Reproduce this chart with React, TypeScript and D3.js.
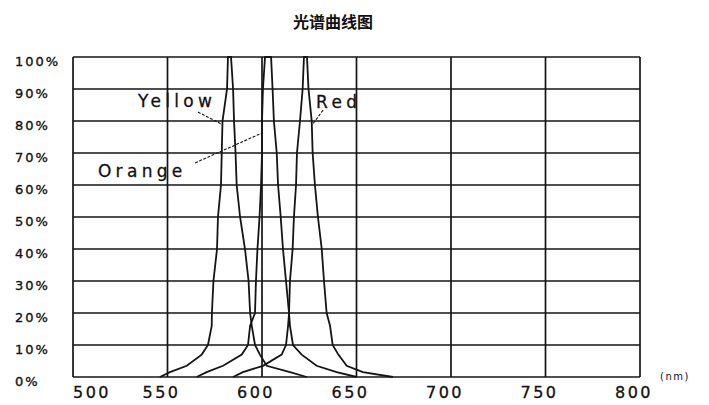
import React from "react";
import * as d3 from "d3";

const W = 709;
const H = 405;

const title = "光谱曲线图";
const xTicks = [500, 550, 600, 650, 700, 750, 800];
const yTicks = [0, 10, 20, 30, 40, 50, 60, 70, 80, 90, 100];
const xUnit = "(nm)";

// [wavelength nm, relative intensity %]
const yellow: [number, number][] = [
  [546, 0], [551.3, 1.5], [560.2, 3.5], [568.1, 7], [571.4, 10], [573.4, 16], [573.5, 20],
  [574.3, 30], [576.2, 40], [576.7, 50], [578.3, 60], [578.7, 70], [579.1, 80], [581.5, 90],
  [582, 100], [583.6, 100], [584.7, 90], [585.2, 80], [586, 70], [586.6, 60], [588.4, 50],
  [591, 40], [592.9, 30], [593.7, 20], [594.6, 16], [596.3, 10], [598.9, 7], [602.5, 3.5],
  [614.8, 1.5], [623.7, 0],
];
const orange: [number, number][] = [
  [565.4, 0], [570.7, 1.5], [579.4, 3.5], [589.3, 7], [592.6, 10], [593.7, 16], [596.3, 20],
  [596.8, 30], [597.6, 40], [598.7, 50], [599.5, 60], [600, 70], [600, 80], [600.5, 90],
  [601.6, 100], [604.8, 100], [605.6, 90], [606.3, 80], [607.8, 70], [608.5, 60], [609.9, 50],
  [611.1, 40], [612.7, 30], [614.3, 20], [614.8, 16], [616.4, 10], [621, 7], [628.9, 3.5],
  [639.5, 1.5], [650.1, 0],
];
const red: [number, number][] = [
  [584.7, 0], [589.9, 1.5], [600.5, 3.5], [610.4, 7], [612.7, 10], [613.8, 16], [614.3, 20],
  [614.8, 30], [616.2, 40], [616.9, 50], [618, 60], [618.5, 70], [620.1, 80], [621.5, 90],
  [622.2, 100], [623.8, 100], [624.6, 90], [626.3, 80], [626.8, 70], [628, 60], [629.6, 50],
  [631.6, 40], [632.8, 30], [634.2, 20], [636, 16], [637.4, 10], [640.4, 7], [644.8, 3.5],
  [653.4, 1.5], [669.3, 0],
];

const seriesNames = ["Yellow", "Orange", "Red"];
const seriesData = [yellow, orange, red];
// label text anchor [nm, %], leader start [nm, %], leader end [nm, %]
const labelAt: [number, number][] = [[534.4, 84.4], [513.2, 62.5], [628.6, 84]];
const leaderFrom: [number, number][] = [[566.1, 82.8], [564.6, 66.9], [632.3, 83.4]];
const leaderTo: [number, number][] = [[579.4, 78.75], [600, 76.25], [626.5, 78.75]];

export default function App() {
  const x = d3.scaleLinear().domain([500, 800]).range([73, 640]);
  const y = d3.scaleLinear().domain([0, 100]).range([377, 57]);
  const line = d3
    .line<[number, number]>()
    .x((d) => x(d[0]))
    .y((d) => y(d[1]))
    .curve(d3.curveLinear);

  const font = "'DejaVu Sans', sans-serif";
  const stroke = "#141414";

  return (
    <svg
      width={W}
      height={H}
      style={{ position: "absolute", left: 0, top: 0, background: "#fff" }}
    >
      <rect x={0} y={0} width={W} height={H} fill="#fff" />
      <text
        x={333}
        y={28}
        textAnchor="middle"
        fontFamily="'Noto Sans CJK SC', sans-serif"
        fontWeight="bold"
        fontSize={16}
        fill="#111"
      >
        {title}
      </text>

      {/* grid */}
      {yTicks.map((t) => (
        <line key={"h" + t} x1={x(500)} x2={x(800)} y1={y(t)} y2={y(t)} stroke={stroke} strokeWidth={1.7} />
      ))}
      {xTicks.map((t) => (
        <line key={"v" + t} x1={x(t)} x2={x(t)} y1={y(0)} y2={y(100)} stroke={stroke} strokeWidth={1.7} />
      ))}

      {/* y tick labels */}
      {yTicks.map((t) => (
        <text
          key={"yl" + t}
          x={15}
          y={y(t) + 4}
          dy="0.35em"
          fontFamily={font}
          fontSize={13}
          letterSpacing={2}
          fill="#111"
          stroke="#111"
          strokeWidth={0.35}
        >
          {t + "%"}
        </text>
      ))}

      {/* x tick labels */}
      {xTicks.map((t, i) => (
        <text
          key={"xl" + t}
          x={i === 0 ? x(t) + 19 : x(t) - 6}
          y={398}
          textAnchor="middle"
          fontFamily={font}
          fontSize={16}
          letterSpacing={2.5}
          fill="#111"
          stroke="#111"
          strokeWidth={0.3}
        >
          {t}
        </text>
      ))}
      <text x={660} y={380} fontFamily={font} fontSize={10} letterSpacing={1.5} fill="#111">
        {xUnit}
      </text>

      {/* curves */}
      {seriesData.map((s, i) => (
        <path key={"s" + i} d={line(s) || ""} fill="none" stroke={stroke} strokeWidth={1.8} strokeLinejoin="miter" />
      ))}

      {/* annotations */}
      {seriesNames.map((n, i) => (
        <g key={"a" + n}>
          <line
            x1={x(leaderFrom[i][0])}
            y1={y(leaderFrom[i][1])}
            x2={x(leaderTo[i][0])}
            y2={y(leaderTo[i][1])}
            stroke={stroke}
            strokeWidth={1.1}
            strokeDasharray="3,1.5"
          />
          <text
            x={x(labelAt[i][0])}
            y={y(labelAt[i][1])}
            fontFamily={font}
            fontSize={17}
            letterSpacing={4.3}
            fill="#111"
            stroke="#111"
            strokeWidth={0.3}
          >
            {n}
          </text>
        </g>
      ))}
    </svg>
  );
}
